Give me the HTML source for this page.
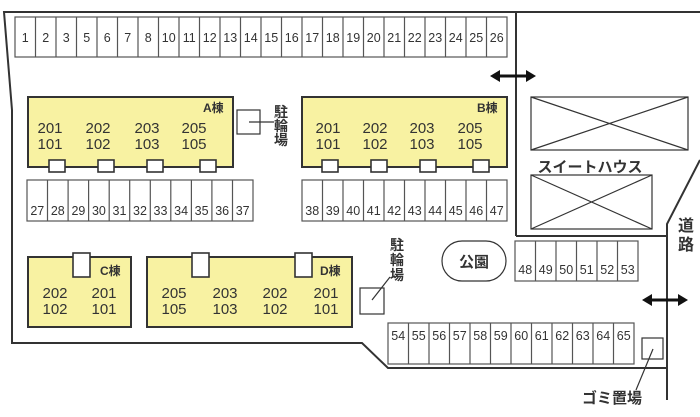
<!DOCTYPE html>
<html><head><meta charset="utf-8"><style>
html,body{margin:0;padding:0;background:#fff;}
svg{display:block;}
text{font-family:"Liberation Sans","Noto Sans CJK JP",sans-serif;fill:#333;}
</style></head><body>
<svg width="700" height="417" viewBox="0 0 700 417" xmlns="http://www.w3.org/2000/svg">
<g fill="none" stroke="#333" stroke-width="2">
<polyline points="700,12 4,12 12,110 12,343 362,343 388,368 666,368"/>
<line x1="516" y1="12" x2="516" y2="236"/>
<line x1="516" y1="236" x2="667" y2="236"/>
<polyline points="700,160 667,224 667,400"/>
</g>
<g fill="#fff" stroke="#555" stroke-width="1.2">
<rect x="15" y="17" width="492" height="40"/>
<rect x="27" y="180" width="226" height="41"/>
<rect x="302" y="180" width="205" height="41"/>
<rect x="515" y="241" width="123" height="40"/>
<rect x="388" y="323" width="246" height="41"/>
</g>
<path stroke="#555" stroke-width="1.2" fill="none" d="
M35.5 17V57M56 17V57M76.5 17V57M97 17V57M117.5 17V57M138 17V57M158.5 17V57M179 17V57M199.5 17V57M220 17V57M240.5 17V57M261 17V57M281.5 17V57M302 17V57M322.5 17V57M343 17V57M363.5 17V57M384 17V57M404.5 17V57M425 17V57M445.5 17V57M466 17V57M486.5 17V57
M47.5 180V221M68.1 180V221M88.6 180V221M109.2 180V221M129.7 180V221M150.3 180V221M170.8 180V221M191.4 180V221M211.9 180V221M232.5 180V221
M322.5 180V221M343 180V221M363.5 180V221M384 180V221M404.5 180V221M425 180V221M445.5 180V221M466 180V221M486.5 180V221
M535.5 241V281M556 241V281M576.5 241V281M597 241V281M617.5 241V281
M408.5 323V364M429 323V364M449.5 323V364M470 323V364M490.5 323V364M511 323V364M531.5 323V364M552 323V364M572.5 323V364M593 323V364M613.5 323V364"/>
<g font-size="12.5" text-anchor="middle">
<text x="25.25" y="42">1</text><text x="45.75" y="42">2</text><text x="66.25" y="42">3</text><text x="86.75" y="42">5</text><text x="107.25" y="42">6</text><text x="127.75" y="42">7</text><text x="148.25" y="42">8</text><text x="168.75" y="42">10</text><text x="189.25" y="42">11</text><text x="209.75" y="42">12</text><text x="230.25" y="42">13</text><text x="250.75" y="42">14</text><text x="271.25" y="42">15</text><text x="291.75" y="42">16</text><text x="312.25" y="42">17</text><text x="332.75" y="42">18</text><text x="353.25" y="42">19</text><text x="373.75" y="42">20</text><text x="394.25" y="42">21</text><text x="414.75" y="42">22</text><text x="435.25" y="42">23</text><text x="455.75" y="42">24</text><text x="476.25" y="42">25</text><text x="496.75" y="42">26</text>
<text x="37.3" y="215">27</text><text x="57.8" y="215">28</text><text x="78.4" y="215">29</text><text x="98.9" y="215">30</text><text x="119.5" y="215">31</text><text x="140" y="215">32</text><text x="160.5" y="215">33</text><text x="181.1" y="215">34</text><text x="201.6" y="215">35</text><text x="222.2" y="215">36</text><text x="242.7" y="215">37</text>
<text x="312.25" y="215">38</text><text x="332.75" y="215">39</text><text x="353.25" y="215">40</text><text x="373.75" y="215">41</text><text x="394.25" y="215">42</text><text x="414.75" y="215">43</text><text x="435.25" y="215">44</text><text x="455.75" y="215">45</text><text x="476.25" y="215">46</text><text x="496.75" y="215">47</text>
<text x="525.25" y="274">48</text><text x="545.75" y="274">49</text><text x="566.25" y="274">50</text><text x="586.75" y="274">51</text><text x="607.25" y="274">52</text><text x="627.75" y="274">53</text>
<text x="398.25" y="340">54</text><text x="418.75" y="340">55</text><text x="439.25" y="340">56</text><text x="459.75" y="340">57</text><text x="480.25" y="340">58</text><text x="500.75" y="340">59</text><text x="521.25" y="340">60</text><text x="541.75" y="340">61</text><text x="562.25" y="340">62</text><text x="582.75" y="340">63</text><text x="603.25" y="340">64</text><text x="623.75" y="340">65</text>
</g>
<g fill="#f8f2a2" stroke="#333" stroke-width="2">
<rect x="28" y="97" width="205" height="70"/>
<rect x="302" y="97" width="205" height="70"/>
<rect x="28" y="257" width="103" height="70"/>
<rect x="147" y="257" width="205" height="70"/>
</g>
<g fill="#fff" stroke="#333" stroke-width="1.6">
<rect x="49" y="160" width="16" height="12"/><rect x="98" y="160" width="16" height="12"/><rect x="147" y="160" width="16" height="12"/><rect x="200" y="160" width="16" height="12"/>
<rect x="322" y="160" width="16" height="12"/><rect x="371" y="160" width="16" height="12"/><rect x="420" y="160" width="16" height="12"/><rect x="473" y="160" width="16" height="12"/>
<rect x="73" y="253" width="17" height="24"/>
<rect x="192" y="253" width="17" height="24"/><rect x="295" y="253" width="17" height="24"/>
</g>
<g font-size="15" text-anchor="middle" fill="#333">
<text x="50" y="133">201</text><text x="50" y="149">101</text>
<text x="98" y="133">202</text><text x="98" y="149">102</text>
<text x="147" y="133">203</text><text x="147" y="149">103</text>
<text x="194" y="133">205</text><text x="194" y="149">105</text>
<text x="328" y="133">201</text><text x="328" y="149">101</text>
<text x="375" y="133">202</text><text x="375" y="149">102</text>
<text x="422" y="133">203</text><text x="422" y="149">103</text>
<text x="470" y="133">205</text><text x="470" y="149">105</text>
<text x="55" y="298">202</text><text x="55" y="314">102</text>
<text x="104" y="298">201</text><text x="104" y="314">101</text>
<text x="174" y="298">205</text><text x="174" y="314">105</text>
<text x="225" y="298">203</text><text x="225" y="314">103</text>
<text x="275" y="298">202</text><text x="275" y="314">102</text>
<text x="326" y="298">201</text><text x="326" y="314">101</text>
</g>
<g font-size="12" font-weight="bold">
<text x="203" y="112">A棟</text><text x="477" y="112">B棟</text>
<text x="100" y="275">C棟</text><text x="320" y="275">D棟</text>
</g>
<g fill="none" stroke="#333" stroke-width="1.2">
<rect x="237" y="110" width="23" height="24"/>
<line x1="249" y1="122" x2="274" y2="122"/>
<rect x="360" y="288" width="24" height="26"/>
<line x1="372" y1="300" x2="390" y2="277"/>
<rect x="642" y="338" width="21" height="21"/>
<line x1="653" y1="349" x2="636" y2="390"/>
<rect x="531" y="97" width="157" height="53"/>
<line x1="531" y1="97" x2="688" y2="150"/><line x1="688" y1="97" x2="531" y2="150"/>
<rect x="531" y="175" width="121" height="54"/>
<line x1="531" y1="175" x2="652" y2="229"/><line x1="652" y1="175" x2="531" y2="229"/>
<rect x="442" y="241" width="64" height="40" rx="20"/>
</g>
<g font-size="14" text-anchor="middle" font-weight="bold">
<text x="281" y="117">駐</text><text x="281" y="131">輪</text><text x="281" y="145">場</text>
<text x="397" y="250">駐</text><text x="397" y="265">輪</text><text x="397" y="280">場</text>
<text x="686" y="231" font-size="16">道</text><text x="686" y="250" font-size="16">路</text>
<text x="474" y="267" font-size="15">公園</text>
<text x="590" y="172" font-size="15">スイートハウス</text>
<text x="612" y="403" font-size="15">ゴミ置場</text>
</g>
<g stroke="#111" stroke-width="3" fill="#111">
<line x1="496" y1="76" x2="530" y2="76"/>
<polygon points="490,76 500,70 500,82" stroke="none"/><polygon points="536,76 526,70 526,82" stroke="none"/>
<line x1="648" y1="300" x2="682" y2="300"/>
<polygon points="642,300 652,294 652,306" stroke="none"/><polygon points="688,300 678,294 678,306" stroke="none"/>
</g>
</svg>
</body></html>
